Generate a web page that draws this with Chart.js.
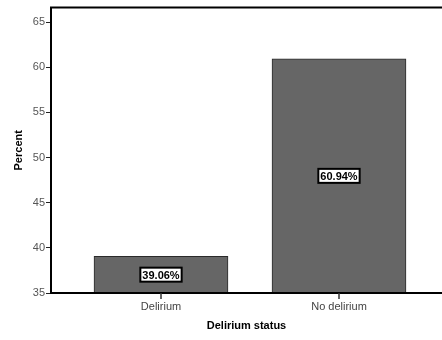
<!DOCTYPE html>
<html>
<head>
<meta charset="utf-8">
<script src="https://cdn.jsdelivr.net/npm/chart.js@4"></script>
<style>
  html, body { margin: 0; padding: 0; background: #fff; }
  #wrap { width: 442px; height: 340px; }
</style>
</head>
<body>
<div id="wrap"><canvas id="chart" width="442" height="340"></canvas></div>
<script>
// categories and percentages
const categories = ['Delirium', 'No delirium'];
const percents = [39.06, 60.94];
const yTicks = [35, 40, 45, 50, 55, 60, 65];

const FONT = 'Arial, "Liberation Sans", sans-serif';

// white boxed value labels in the middle of each bar
const boxLabels = {
    id: 'boxLabels',
    afterDatasetsDraw(chart) {
        const ctx = chart.ctx;
        const area = chart.chartArea;
        const meta = chart.getDatasetMeta(0);
        ctx.save();
        ctx.font = 'bold 11px ' + FONT;
        ctx.textAlign = 'center';
        ctx.textBaseline = 'middle';
        meta.data.forEach((bar, i) => {
            const bottom = Math.min(bar.base, area.bottom);
            const cy = (bar.y + bottom) / 2;
            const text = percents[i].toFixed(2) + '%';
            const w = ctx.measureText(text).width + 4;
            const h = 14;
            ctx.fillStyle = '#fff';
            ctx.fillRect(bar.x - w / 2, cy - h / 2, w, h);
            ctx.strokeStyle = '#000';
            ctx.lineWidth = 2;
            ctx.strokeRect(bar.x - w / 2, cy - h / 2, w, h);
            ctx.fillStyle = '#000';
            ctx.fillText(text, bar.x, cy + 1);
        });
        ctx.restore();
    }
};

// frame lines (left, top, bottom) and the x tick marks
const frame = {
    id: 'frame',
    afterDraw(chart) {
        const { ctx, chartArea: a } = chart;
        const meta = chart.getDatasetMeta(0);
        ctx.save();
        ctx.strokeStyle = '#000';
        ctx.lineWidth = 2;
        ctx.beginPath();
        ctx.moveTo(a.right + 2, a.top);
        ctx.lineTo(a.left, a.top);
        ctx.lineTo(a.left, a.bottom);
        ctx.lineTo(a.right + 2, a.bottom);
        ctx.stroke();
        ctx.strokeStyle = '#333';
        ctx.lineWidth = 1.5;
        ctx.beginPath();
        meta.data.forEach(bar => {
            const px = Math.round(bar.x);
            ctx.moveTo(px, a.bottom);
            ctx.lineTo(px, a.bottom + 6);
        });
        ctx.stroke();
        ctx.restore();
    }
};

new Chart(document.getElementById('chart').getContext('2d'), {
    type: 'bar',
    data: {
        datasets: [{
            data: categories.map((c, i) => ({ x: i + 1, y: percents[i] })),
            backgroundColor: '#666666',
            borderColor: '#2a2a2a',
            borderWidth: 1,
            barThickness: 134
        }]
    },
    options: {
        responsive: false,
        animation: false,
        layout: { padding: { top: 6, right: 0, left: 12, bottom: 7 } },
        plugins: { legend: { display: false }, tooltip: { enabled: false } },
        scales: {
            x: {
                type: 'linear',
                offset: false,
                min: 1 - 110 / 178,
                max: 1 - 110 / 178 + 391 / 178,
                afterBuildTicks(scale) {
                    scale.ticks = categories.map((c, i) => ({ value: i + 1 }));
                },
                afterFit(scale) { scale.height = 40; },
                grid: {
                    display: true,
                    offset: false,
                    drawOnChartArea: false,
                    drawTicks: true,
                    tickLength: 7,
                    color: 'rgba(0,0,0,0)'
                },
                border: { display: false },
                ticks: {
                    callback: v => categories[v - 1] || '',
                    color: '#444',
                    font: { family: FONT, size: 11 },
                    padding: 0,
                    maxRotation: 0
                },
                title: {
                    display: true,
                    text: 'Delirium status',
                    color: '#000',
                    font: { family: FONT, size: 11, weight: 'bold' },
                    padding: { top: 2, bottom: 0 }
                }
            },
            y: {
                min: 35,
                max: 66.6,
                afterBuildTicks(scale) {
                    scale.ticks = yTicks.map(v => ({ value: v }));
                },
                afterFit(scale) { scale.width = 39; },
                grid: {
                    display: true,
                    drawOnChartArea: false,
                    drawTicks: true,
                    tickLength: 5,
                    tickColor: '#222'
                },
                border: { display: false },
                ticks: {
                    color: '#555',
                    font: { family: FONT, size: 11 },
                    padding: 1
                },
                title: {
                    display: true,
                    text: 'Percent',
                    color: '#000',
                    font: { family: FONT, size: 11, weight: 'bold' },
                    padding: { top: 0, bottom: 0 }
                }
            }
        }
    },
    plugins: [boxLabels, frame]
});
</script>
</body>
</html>
